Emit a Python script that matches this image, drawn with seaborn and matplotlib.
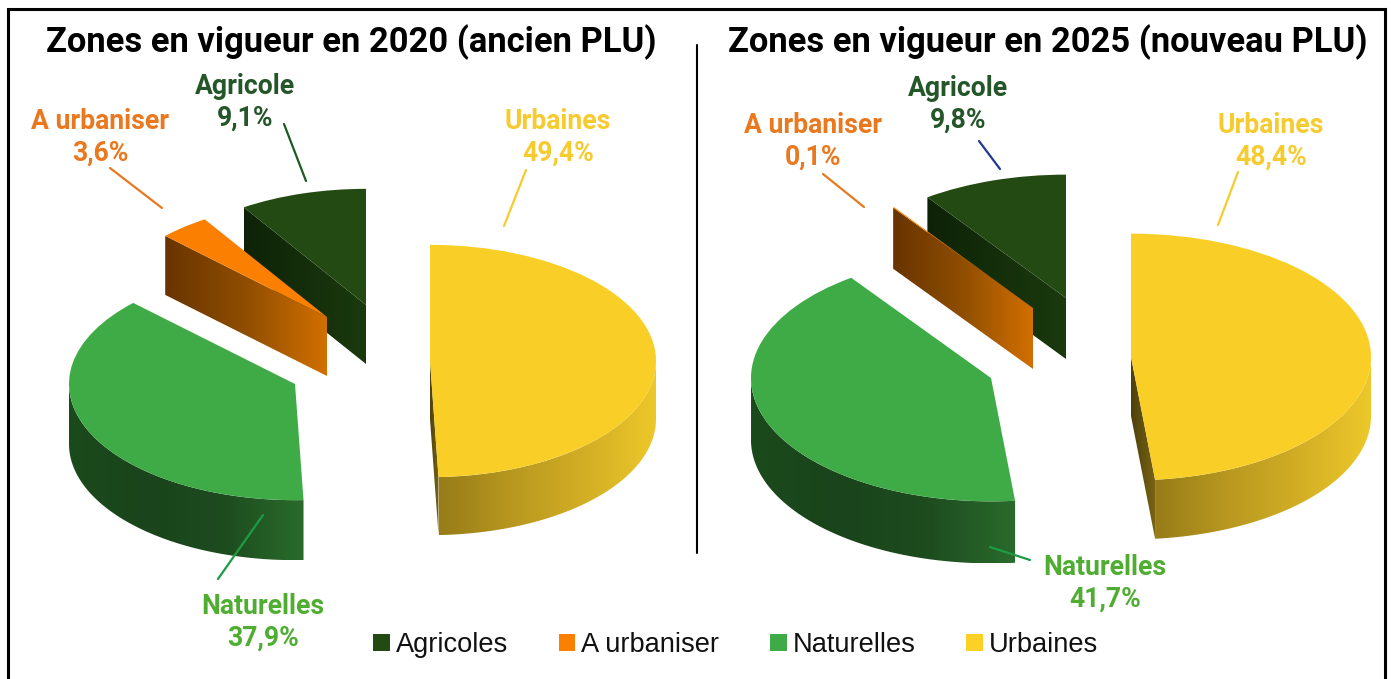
import numpy as np
import matplotlib
matplotlib.use("Agg")
import matplotlib.pyplot as plt
from matplotlib.patches import Patch, Polygon
import seaborn as sns

# ---- data ----
categories = ["Urbaines", "Naturelles", "A urbaniser", "Agricole"]
legend_labels = ["Agricoles", "A urbaniser", "Naturelles", "Urbaines"]
values_2020 = [49.4, 37.9, 3.6, 9.1]
values_2025 = [48.4, 41.7, 0.1, 9.8]
title_2020 = "Zones en vigueur en 2020 (ancien PLU)"
title_2025 = "Zones en vigueur en 2025 (nouveau PLU)"

# ---- styles ----
W, H = 1391, 679
SQUASH = 0.514
top_colors = ["#F9CF27", "#3EAB47", "#FB7F00", "#234A12"]
wall_stops = [["#977C18", "#B8981F", "#D2AE25", "#EDC82A"],
              ["#1B4A1C", "#1A441B", "#1D4C1F", "#2A6B2C"],
              ["#6A3500", "#6A3500"],
              ["#0F2508", "#0F2508"]]
cut_stops = [["#4E400C", "#7A6512"],
             ["#1B4A1C", "#1B4A1C"],
             ["#693400", "#8F4E02", "#D26F00"],
             ["#0E2207", "#1A3A0E"]]
label_colors = ["#F6CB2F", "#4FAE32", "#E9781E", "#25562A"]
legend_colors = ["#234A12", "#FB7F00", "#3EAB47", "#FCD024"]

sns.set_theme(style="white")
plt.rcParams["font.family"] = ["Roboto", "DejaVu Sans"]

fig = plt.figure(figsize=(W / 100, H / 100), dpi=100, facecolor="white")
ax = fig.add_axes([0, 0, 1, 1])


def Y(py):
    return (H - py) / SQUASH


def gradient_poly(px, py, stops):
    """Fill the polygon (px, py) with a left-to-right gradient."""
    rgb = np.array(sns.blend_palette(stops, 128))[None, :, :3]
    img = ax.imshow(rgb, extent=(min(px), max(px), min(py), max(py)), aspect="auto",
                    interpolation="bilinear", zorder=1)
    clip = Polygon(np.column_stack([px, py]), closed=True, transform=ax.transData)
    img.set_clip_path(clip)


def draw_slice(cx, cy, rx, depth, a, b, i):
    """One extruded slice going clockwise from angle a to angle b (degrees)."""
    dd = depth / SQUASH
    yc = Y(cy)

    def cut_face(phi):
        ex = cx + rx * np.cos(np.radians(phi))
        ey = yc + rx * np.sin(np.radians(phi))
        stops = cut_stops[i] if ex > cx else cut_stops[i]
        gradient_poly([cx, ex, ex, cx], [yc, ey, ey - dd, yc - dd], stops)

    if np.cos(np.radians(b)) > 1e-6:
        cut_face(b)
    if np.cos(np.radians(a)) < -1e-6:
        cut_face(a)

    lo, hi = max(b, -180.0), min(a, 0.0)
    if hi > lo:
        ts = np.radians(np.linspace(lo, hi, 121))
        xs = cx + rx * np.cos(ts)
        ys = yc + rx * np.sin(ts)
        gradient_poly(np.r_[xs, xs[::-1]], np.r_[ys, ys[::-1] - dd], wall_stops[i])

    ax.pie([(a - b) / 360.0], normalize=False, startangle=a, counterclock=False,
           colors=[top_colors[i]], center=(cx, yc), radius=rx, frame=True,
           wedgeprops={"linewidth": 0, "zorder": 1})


def draw_pie(values, centers, rx, depths):
    angles = 90 - np.cumsum([0] + list(values)) * 3.6
    for i in [3, 2, 1, 0]:
        cx, cy = centers[i]
        draw_slice(cx, cy, rx, depths[i], angles[i], angles[i + 1], i)


draw_pie(values_2020, [(430, 361), (295, 384), (327, 317), (366, 305)], 226, [58, 60, 59, 59])
draw_pie(values_2025, [(1131, 357), (991, 378), (1033, 308), (1066, 298)], 240, [59, 62, 61, 61])


def fmt(v):
    return f"{v:.1f}".replace(".", ",") + "%"


def labels(values, pos, names, leaders, leader_colors):
    for i, (x, y) in enumerate(pos):
        ax.text(x, Y(y + 1.5), names[i], color=label_colors[i], fontsize=19.2, fontweight="bold",
                ha="center", va="center")
        ax.text(x, Y(y + 33), fmt(values[i]), color=label_colors[i], fontsize=19.2, fontweight="bold",
                ha="center", va="center")
        (x0, y0), (x1, y1) = leaders[i]
        ax.plot([x0, x1], [Y(y0), Y(y1)], color=leader_colors[i], lw=1.6)


labels(values_2020, [(558, 120), (263, 605), (100, 120), (245, 85)],
       categories,
       [((526, 170), (504, 226)), ((218, 579), (263, 515)), ((110, 168), (162, 208)), ((284, 124), (306, 181))],
       ["#F6CB2F", "#1F9A45", "#E9781E", "#1F5A25"])
labels(values_2025, [(1271, 124), (1105, 566), (813, 124), (958, 87)],
       categories,
       [((1238, 172), (1218, 225)), ((1030, 560), (990, 547)), ((823, 174), (864, 207)), ((979, 141), (1000, 169))],
       ["#F6CB2F", "#1F9A45", "#E9781E", "#1F3A93"])

for txt, xc in [(title_2020, 351), (title_2025, 1047.5)]:
    ax.text(xc, Y(42), txt, color="black", fontsize=24.85, fontweight="bold", ha="center", va="center")

# frame and divider
ax.plot([7.5, 7.5, 1385, 1385], [Y(H), Y(9), Y(9), Y(H)], color="black", lw=2.2,
        solid_joinstyle="miter", clip_on=False)
ax.plot([696.5, 696.5], [Y(45), Y(553)], color="black", lw=1.5)

handles = [Patch(facecolor=c, edgecolor="none") for c in legend_colors]
ax.legend(handles, legend_labels, loc="center", bbox_to_anchor=(735.5 / W, (H - 645) / H),
          bbox_transform=fig.transFigure, ncol=4, frameon=False,
          prop={"family": "Liberation Sans", "size": 19.6}, labelcolor="#111111",
          handlelength=0.62, handleheight=0.62, handletextpad=0.22, columnspacing=1.85,
          borderpad=0, borderaxespad=0)

ax.set_aspect("auto")
ax.set_xlim(0, W)
ax.set_ylim(0, H / SQUASH)
ax.axis("off")

fig.savefig("out.png", dpi=100, facecolor="white")
